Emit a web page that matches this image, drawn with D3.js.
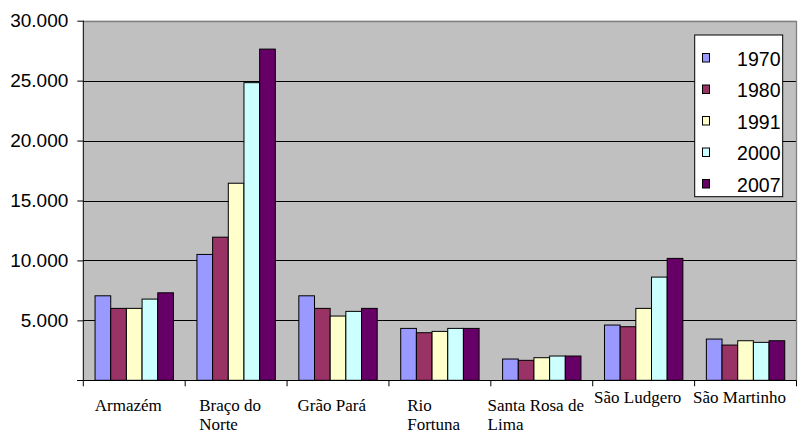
<!DOCTYPE html>
<html><head><meta charset="utf-8">
<script src="https://cdn.jsdelivr.net/npm/d3@7"></script>
<style>body{margin:0;background:#fff}svg{display:block}
.serif{font-family:"Liberation Serif","Times New Roman",serif}
.sans{font-family:"Liberation Sans",Arial,sans-serif}
</style>
</head><body><svg id="c" width="801" height="433"></svg>
<script>
const categories = ["Armazém","Braço do Norte","Grão Pará","Rio Fortuna","Santa Rosa de Lima","São Ludgero","São Martinho"];
const categoryLines = [["Armazém",""],["Braço do","Norte"],["Grão Pará",""],["Rio","Fortuna"],["Santa Rosa de","Lima"],["São Ludgero"],["São Martinho"]];
const years = ["1970","1980","1991","2000","2007"];
const v1970 = [7050,10500,7050,4330,1775,4610,3440];
const v1980 = [6000,11940,6000,3970,1665,4470,2940];
const v1991 = [6000,16440,5360,4080,1885,6000,3300];
const v2000 = [6775,24830,5750,4330,2025,8610,3165];
const v2007 = [7300,27630,6000,4330,2025,10170,3300];
const series = [v1970,v1980,v1991,v2000,v2007];
const colors = ["#9999FF","#993366","#FFFFCC","#CCFFFF","#660066"];
const yTicks = [5000,10000,15000,20000,25000,30000];
const yTickLabels = ["5.000","10.000","15.000","20.000","25.000","30.000"];

const svg = d3.select("#c");
const L = 83.3, R = 796.5, T = 20.7, B = 380.3;
const x0 = d3.scaleBand().domain(categories).range([L,R]).padding(0);
const x1 = d3.scaleBand().domain(years).range([0,x0.bandwidth()]).paddingInner(0).paddingOuter(0.75);
const y = d3.scaleLinear().domain([0,30000]).range([B,T]);

svg.append("rect").attr("x",L).attr("y",T).attr("width",R-L).attr("height",B-T).attr("fill","#C0C0C0");
svg.append("g").selectAll("line").data(yTicks.filter(t=>t<30000)).join("line")
  .attr("x1",L).attr("x2",R).attr("y1",d=>Math.round(y(d))+0.5).attr("y2",d=>Math.round(y(d))+0.5)
  .attr("stroke","#000").attr("stroke-width",1);
svg.append("path").attr("d",`M${L},${Math.round(T)+0.5}H${R}V${B}`).attr("fill","none").attr("stroke","#808080").attr("stroke-width",1.3);

const g = svg.append("g");
categories.forEach((c,i)=>{
  years.forEach((yr,j)=>{
    const v = series[j][i];
    g.append("rect").attr("x",x0(c)+x1(yr)).attr("y",y(v)).attr("width",x1.bandwidth()).attr("height",y(0)-y(v))
      .attr("fill",colors[j]).attr("stroke","#000").attr("stroke-width",1);
  });
});

const yAxis = d3.axisLeft(y).tickValues(yTicks).tickFormat((d,i)=>yTickLabels[i]).tickSize(6).tickPadding(9);
const ya = svg.append("g").attr("transform",`translate(${L},0)`).call(yAxis);
ya.attr("font-family",null).attr("font-size",null);
ya.select(".domain").attr("d",`M-6,${Math.round(B)+0.5}H0V${T}`).attr("stroke","#000");
ya.selectAll("text").attr("class","sans").style("font-size","19px").attr("fill","#000");
svg.append("line").attr("x1",L-6).attr("x2",L).attr("y1",Math.round(B)+0.5).attr("y2",Math.round(B)+0.5).attr("stroke","#000");

svg.append("line").attr("x1",L).attr("x2",R).attr("y1",Math.round(B)+0.5).attr("y2",Math.round(B)+0.5).attr("stroke","#000");
const bounds = categories.map(c=>x0(c)).concat([R]);
svg.append("g").selectAll("line").data(bounds).join("line")
  .attr("x1",d=>d).attr("x2",d=>d).attr("y1",B).attr("y2",B+6).attr("stroke","#000");

categories.forEach((c,i)=>{
  const lines = categoryLines[i];
  const t = svg.append("text").attr("class","serif").style("font-size","17px").attr("fill","#000");
  const firstY = lines.length>1 ? 411 : 403;
  lines.forEach((ln,k)=>{
    t.append("tspan").attr("x",0).attr("y",firstY+k*19).text(ln);
  });
  const w = t.node().getBBox().width;
  let left = x0(c)+x0.bandwidth()/2 - w/2 - 6;
  if(left+w>797) left = 797-w;
  t.attr("transform",`translate(${left},0)`);
});

const lg = svg.append("g");
lg.append("rect").attr("x",694.7).attr("y",35).attr("width",88).attr("height",161.7).attr("fill","#fff").attr("stroke","#000").attr("stroke-width",1);
years.forEach((yr,j)=>{
  const cy = 58 + j*31.5;
  lg.append("rect").attr("x",702.5).attr("y",cy-4.5).attr("width",7).attr("height",8.5).attr("fill",colors[j]).attr("stroke","#000").attr("stroke-width",1);
  lg.append("text").attr("class","sans").attr("x",780.5).attr("y",cy+7.5).attr("text-anchor","end")
    .style("font-size","19.5px").attr("fill","#000").text(yr);
});
</script></body></html>
